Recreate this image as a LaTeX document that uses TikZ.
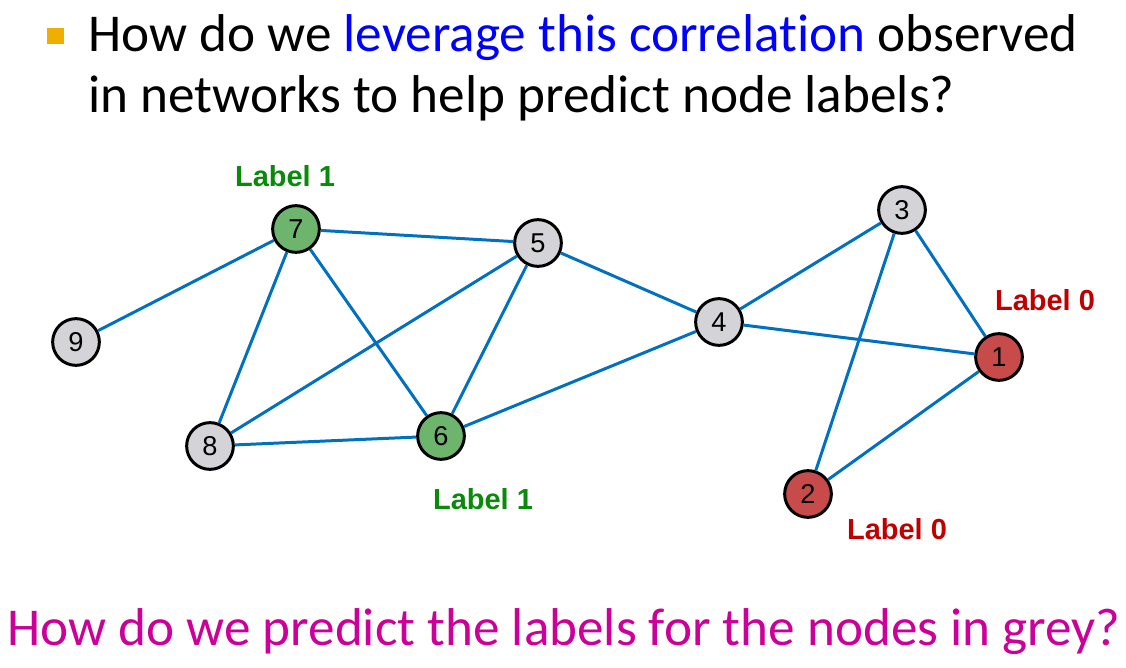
\documentclass[tikz,border=0pt]{standalone}
\usepackage{fontspec}
\setmainfont[Ligatures=NoCommon]{Carlito}
\newfontfamily\arialfont{Liberation Sans}
\usepackage{xcolor}
\usepackage{tikz}
\definecolor{edgeblue}{HTML}{0070C0}
\definecolor{greyfill}{HTML}{D4D4D8}
\definecolor{greenfill}{HTML}{6DB56D}
\definecolor{redfill}{HTML}{C84B4B}
\definecolor{greenlab}{HTML}{0A8A0A}
\definecolor{redlab}{HTML}{C00000}
\definecolor{hilite}{HTML}{0000FF}
\definecolor{question}{HTML}{CC0099}
\definecolor{bulletc}{HTML}{F0AE00}
\tikzset{
  edge/.style={line width=1.7pt, draw=edgeblue},
  vtx/.style={circle, draw=black, line width=1.7pt, minimum size=26.6pt, inner sep=0pt,
    font=\arialfont\fontsize{15.5}{15.5}\selectfont},
  vgrey/.style={vtx, fill=greyfill},
  vgreen/.style={vtx, fill=greenfill},
  vred/.style={vtx, fill=redfill},
  labG/.style={text=greenlab, font=\arialfont\bfseries\fontsize{16.5}{16.5}\selectfont},
  labR/.style={text=redlab, font=\arialfont\bfseries\fontsize{16.5}{16.5}\selectfont},
  txt/.style={anchor=base west, inner sep=0pt, font=\fontsize{30.3}{30.3}\selectfont}
}
\begin{document}
\begin{tikzpicture}[x=0.02cm, y=-0.02cm]
  \useasboundingbox (0,0) rectangle (1126,668);
  % heading
  \fill[bulletc] (47,28) rectangle (64,44);
  \node[txt] (line1) at (88,52) {How do we \textcolor{hilite}{leverage this correlation} observed};
  \node[txt] (line2) at (88,113) {in networks to help predict node labels?};
  % graph
  \node[vgreen] (n7) at (296,229) {7};
  \node[vgrey] (n5) at (538,243) {5};
  \node[vgrey] (n9) at (76,342) {9};
  \node[vgrey] (n8) at (210,446) {8};
  \node[vgreen] (n6) at (441,436) {6};
  \node[vgrey] (n4) at (719,322) {4};
  \node[vgrey] (n3) at (902,210) {3};
  \node[vred] (n1) at (999,357) {1};
  \node[vred] (n2) at (808,494) {2};
  \draw[edge] (n9) -- (n7);
  \draw[edge] (n7) -- (n5);
  \draw[edge] (n7) -- (n8);
  \draw[edge] (n7) -- (n6);
  \draw[edge] (n5) -- (n8);
  \draw[edge] (n5) -- (n6);
  \draw[edge] (n5) -- (n4);
  \draw[edge] (n8) -- (n6);
  \draw[edge] (n6) -- (n4);
  \draw[edge] (n4) -- (n3);
  \draw[edge] (n4) -- (n1);
  \draw[edge] (n3) -- (n1);
  \draw[edge] (n3) -- (n2);
  \draw[edge] (n1) -- (n2);
  % labels
  \node[labG] (lab7) at (285,176) {Label 1};
  \node[labG] (lab6) at (483,499) {Label 1};
  \node[labR] (lab1) at (1045,300) {Label 0};
  \node[labR] (lab2) at (897,529) {Label 0};
  % question
  \node[txt, text=question] (ask) at (7,645) {How do we predict the labels for the nodes in grey?};
\end{tikzpicture}
\end{document}
